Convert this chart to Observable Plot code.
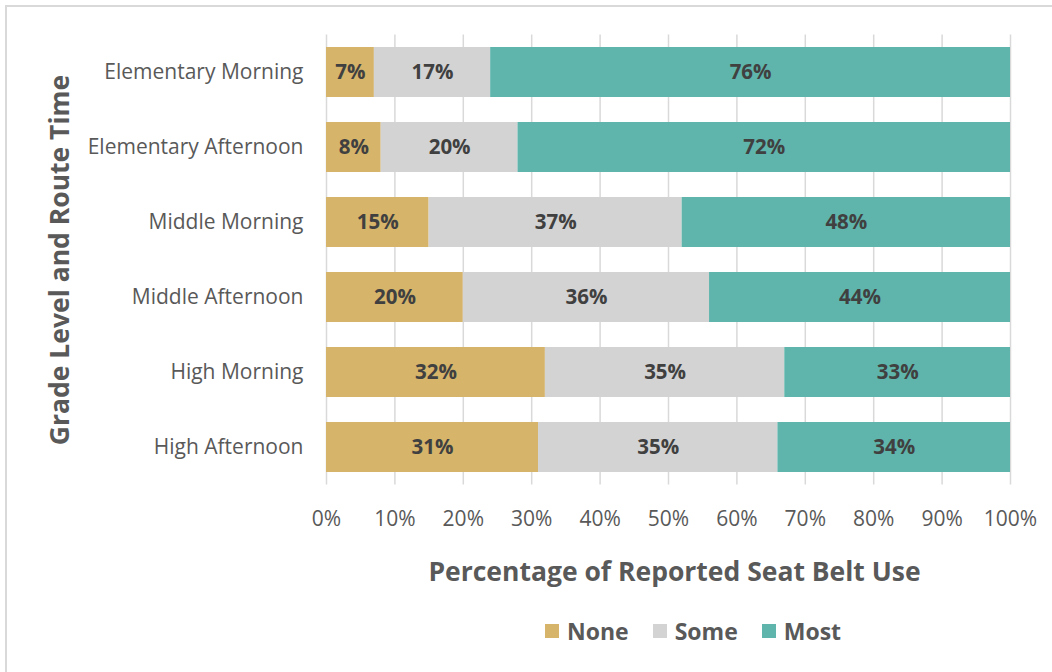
<!DOCTYPE html>
<html>
<head>
<meta charset="utf-8">
<script src="https://cdn.jsdelivr.net/npm/d3@7"></script>
<script src="https://cdn.jsdelivr.net/npm/@observablehq/plot@0.6"></script>
<style>
  body { margin: 0; background: #fff; font-family: "Open Sans", Lato, sans-serif; }
  #frame { position: absolute; left: 5px; top: 5px; width: 1100px; height: 720px; border: 2px solid #d9d9d9; box-sizing: border-box; }
  #chart { position: absolute; left: 0; top: 0; }
  #legend { position: absolute; left: 545px; top: 615px; display: flex; align-items: center; font-weight: bold; font-size: 23px; color: #595959; }
  #legend .item { display: flex; align-items: center; margin-right: 24px; }
  #legend .sw { width: 14px; height: 14px; margin-right: 8px; }
</style>
</head>
<body>
<div id="frame"></div>
<div id="chart"></div>
<div id="legend"></div>
<script>
const categories = ["Elementary Morning", "Elementary Afternoon", "Middle Morning", "Middle Afternoon", "High Morning", "High Afternoon"];
const seriesNames = ["None", "Some", "Most"];
const noneValues = [7, 8, 15, 20, 32, 31];
const someValues = [17, 20, 37, 36, 35, 35];
const mostValues = [76, 72, 48, 44, 33, 34];
const xTicks = [0, 10, 20, 30, 40, 50, 60, 70, 80, 90, 100];
const colors = ["#d6b46a", "#d3d3d3", "#5fb5ac"];

const allValues = [noneValues, someValues, mostValues];
const data = [];
seriesNames.forEach((s, si) => {
  categories.forEach((c, ci) => {
    data.push({series: s, cat: c, value: allValues[si][ci]});
  });
});

const chart = Plot.plot({
  width: 1052,
  height: 610,
  marginLeft: 326,
  marginRight: 42,
  marginTop: 34.5,
  marginBottom: 125.5,
  style: {fontFamily: "'Open Sans', Lato, sans-serif", background: "transparent"},
  x: {domain: [0, 100], ticks: xTicks},
  y: {domain: categories, paddingInner: 1/3, paddingOuter: 1/6},
  color: {domain: seriesNames, range: colors},
  marks: [
    Plot.gridX(xTicks, {stroke: "#d9d9d9", strokeOpacity: 1, strokeWidth: 1.5}),
    Plot.barX(data, {x: "value", y: "cat", fill: "series", order: seriesNames}),
    Plot.text(data, Plot.stackX({x: "value", y: "cat", z: "series", order: seriesNames, text: d => d.value + "%", fill: "#404040", fontWeight: "bold", fontSize: 20.5})),
    Plot.axisX(xTicks, {tickSize: 0, tickPadding: 26, tickFormat: d => d + "%", fontSize: 21, color: "#595959", label: null}),
    Plot.axisY({tickSize: 0, tickPadding: 23, fontSize: 21, color: "#595959", label: null}),
    Plot.text(["Percentage of Reported Seat Belt Use"], {frameAnchor: "bottom", dy: 88, text: d => d, fontSize: 26.5, fontWeight: "bold", fill: "#595959", lineAnchor: "middle", dx: 6}),
    Plot.text(["Grade Level and Route Time"], {frameAnchor: "left", dx: -266, rotate: -90, text: d => d, fontSize: 26.5, fontWeight: "bold", fill: "#595959", lineAnchor: "middle", textAnchor: "middle"})
  ]
});
document.getElementById("chart").appendChild(chart);

const legend = document.getElementById("legend");
seriesNames.forEach((s, i) => {
  const item = document.createElement("div");
  item.className = "item";
  const sw = document.createElement("div");
  sw.className = "sw";
  sw.style.background = colors[i];
  const label = document.createElement("span");
  label.textContent = s;
  item.appendChild(sw);
  item.appendChild(label);
  legend.appendChild(item);
});
</script>
</body>
</html>
